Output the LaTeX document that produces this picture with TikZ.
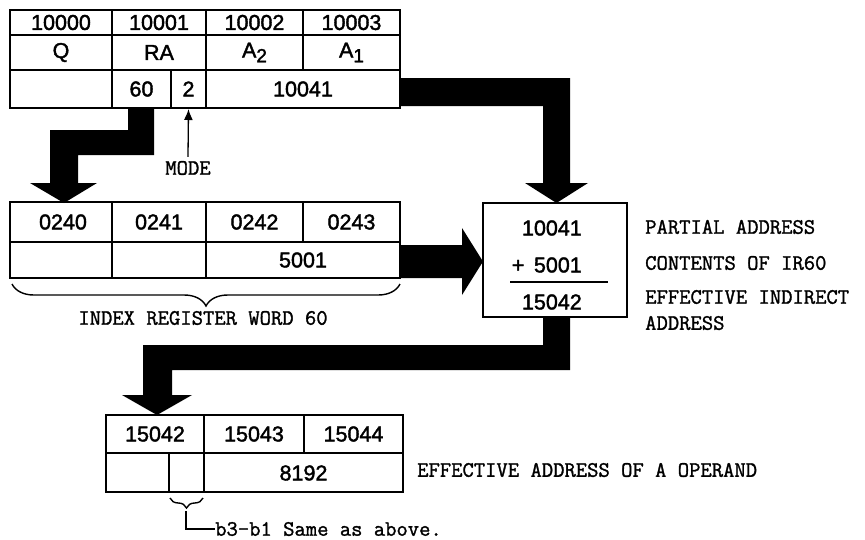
\documentclass[tikz,border=0pt]{standalone}
\usepackage{fontspec}
\setmainfont{Liberation Sans}
\newfontfamily\numfont[FakeBold=1.8]{Liberation Sans}
\newfontfamily\twfont[FakeBold=1.4]{Latin Modern Mono}
\usetikzlibrary{decorations.pathreplacing,arrows.meta}
\begin{document}
\begin{tikzpicture}[x=1pt,y=-1pt,
  num/.style={font=\numfont\fontsize{21.5}{24}\selectfont, inner sep=0pt},
  lbl/.style={font=\twfont\fontsize{22}{26}\selectfont, inner sep=0pt},
  outerline/.style={line width=2.8pt},
  innerline/.style={line width=1.2pt},
  fat/.style={fill=black, draw=none},
  thinarrow/.style={line width=1.3pt, -{Latex[length=11pt,width=9pt]}},
  bracestyle/.style={line width=1.4pt, decorate}]
\useasboundingbox (0,0) rectangle (865,539);

% ---------------- fat arrows ----------------
\fill[fat] (128,108) -- (154,108) -- (154,155) -- (78,155) -- (78,183) -- (97,183)
  -- (64,203) -- (30,183) -- (50,183) -- (50,130) -- (128,130) -- cycle;
\fill[fat] (400,78) -- (570,78) -- (570,183) -- (588,183) -- (556.5,203) -- (525,183)
  -- (543,183) -- (543,106) -- (400,106) -- cycle;
\fill[fat] (400,245) -- (462,245) -- (462,228) -- (483,261.5) -- (462,295)
  -- (462,278) -- (400,278) -- cycle;
\fill[fat] (543,317) -- (570,317) -- (570,370) -- (172,370) -- (172,395) -- (192,395)
  -- (157,415) -- (122,395) -- (143,395) -- (143,345) -- (543,345) -- cycle;

% ---------------- top word ----------------
\draw[innerline] (10,35) -- (400,35) (10,70) -- (400,70);
\draw[innerline] (112,10) -- (112,108) (206,10) -- (206,108) (303,10) -- (303,70) (171,70) -- (171,108);
\draw[outerline,fill=none] (10,10) rectangle (400,108);
\node[num] (a0) at (61,22.5) {10000};
\node[num] (a1) at (159,22.5) {10001};
\node[num] (a2) at (254.5,22.5) {10002};
\node[num] (a3) at (351.5,22.5) {10003};
\node[num] (q)  at (61,52.5) {Q};
\node[num] (ra) at (159,52.5) {RA};
\node[num] (atwo) at (254.5,52.5) {A\raisebox{-0.22em}{\fontsize{19}{20}\selectfont 2}};
\node[num] (aone) at (351.5,52.5) {A\raisebox{-0.22em}{\fontsize{19}{20}\selectfont 1}};
\node[num] (sixty) at (141.5,89) {60};
\node[num] (two) at (188.5,89) {2};
\node[num] (addr) at (303,89) {10041};
\coordinate (modetip) at (188.5,109);

% MODE
\node[lbl] (mode) at (188,168) {MODE};
\draw[thinarrow] (mode.north) ++(0,-4) -- (modetip);

% ---------------- index register ----------------
\draw[innerline] (10,242) -- (400,242);
\draw[innerline] (112,202) -- (112,278) (206,202) -- (206,278) (303,202) -- (303,242);
\draw[outerline] (10,202) rectangle (400,278);
\node[num] (i0) at (63,222) {0240};
\node[num] (i1) at (159,222) {0241};
\node[num] (i2) at (254.5,222) {0242};
\node[num] (i3) at (351.5,222) {0243};
\node[num] (ival) at (303,260) {5001};
\draw[bracestyle, decoration={brace, amplitude=22pt}] (400,284) -- (12,284);
\node[lbl] (irw) at (203,318) {INDEX REGISTER WORD 60};

% ---------------- sum box ----------------
\draw[outerline] (483,203) rectangle (627,317);
\node[num, anchor=east] (s1) at (582,228) {10041};
\node[num, anchor=east] (s2) at (582,265) {+\ \,5001};
\draw[line width=1.4pt] (510,282) -- (608,282);
\node[num, anchor=east] (s3) at (582,302) {15042};
\node[lbl, anchor=west] (l1) at (645,227) {PARTIAL ADDRESS};
\node[lbl, anchor=west] (l2) at (645,263) {CONTENTS OF IR60};
\node[lbl, anchor=west] (l3) at (645,297) {EFFECTIVE INDIRECT};
\node[lbl, anchor=west] (l4) at (645,323) {ADDRESS};

% ---------------- operand word ----------------
\draw[innerline] (106,453) -- (403,453);
\draw[innerline] (204,415) -- (204,492) (304,415) -- (304,453) (169,453) -- (169,492);
\draw[outerline] (106,415) rectangle (403,492);
\node[num] (o0) at (155,434) {15042};
\node[num] (o1) at (254,434) {15043};
\node[num] (o2) at (353.5,434) {15044};
\node[num] (oval) at (303.5,473) {8192};
\node[lbl, anchor=west] (l5) at (417,470) {EFFECTIVE ADDRESS OF A OPERAND};

\draw[bracestyle, decoration={brace, amplitude=10pt}] (203,498) -- (170,498);
\coordinate (btip) at (186,511);
\node[lbl, anchor=west] (note) at (215,529) {b3-b1 Same as above.};
\draw[line width=1.3pt] (btip) |- (note.west);
\end{tikzpicture}
\end{document}
